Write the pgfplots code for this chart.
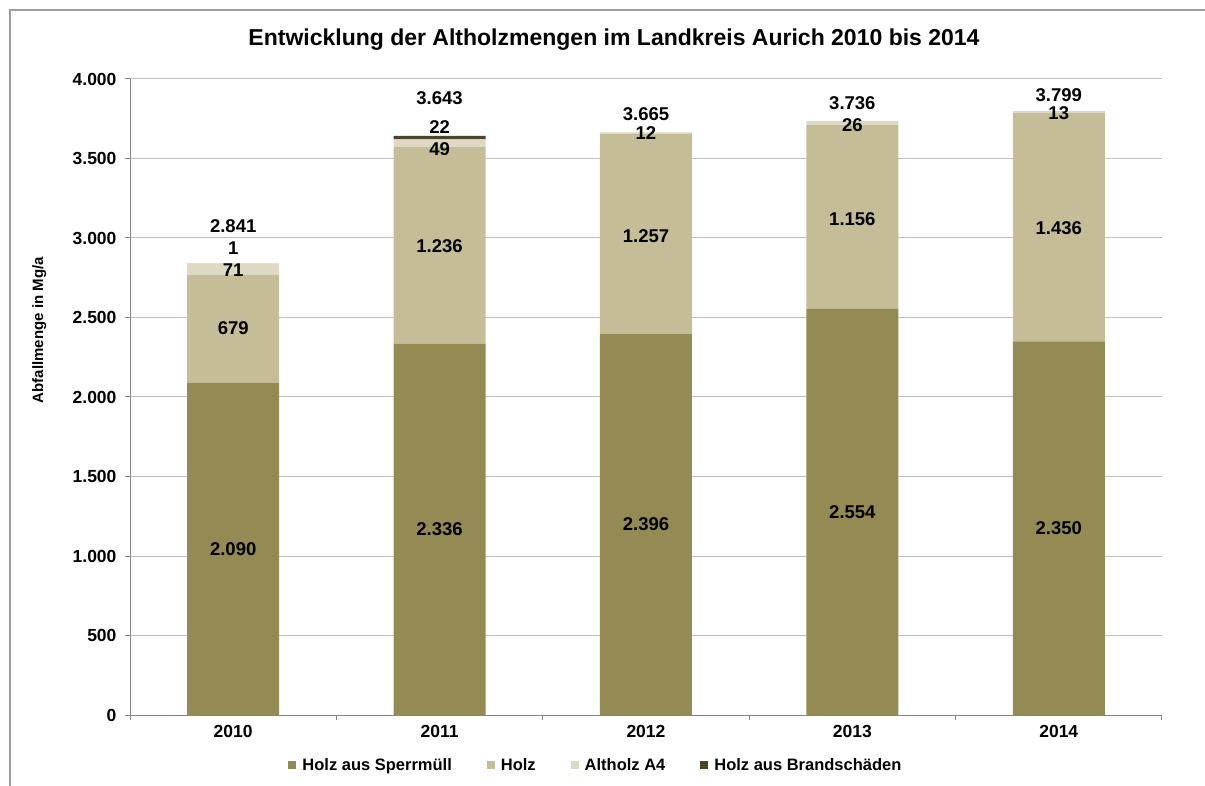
\documentclass[border=0pt]{standalone}
\usepackage{pgfplots}
\pgfplotsset{compat=1.18}
\usepackage{fontspec}
\setmainfont{Liberation Sans}
\definecolor{sperr}{HTML}{948A54}
\definecolor{holz}{HTML}{C4BD97}
\definecolor{altA}{HTML}{DDD9C3}
\definecolor{brand}{HTML}{4A452A}
\definecolor{gridc}{HTML}{BFBFBF}
\definecolor{axisc}{HTML}{868686}

\pgfplotsset{chartgeom/.style={at={(130pt,70pt)}, anchor=south west,
    scale only axis, width=1032pt, height=636pt,
    xmin=-0.5, xmax=4.5, ymin=0, ymax=4000}}

\begin{document}
\begin{tikzpicture}[x=1pt,y=1pt]
\useasboundingbox (0,0) rectangle (1205,785);
\draw[axisc!80, line width=1.5pt] (10,-2) -- (10,775) -- (1207,775);
\node[font=\fontsize{23}{27}\selectfont\bfseries] at (614,745)
  {Entwicklung der Altholzmengen im Landkreis Aurich 2010 bis 2014};

% Balken
\begin{axis}[chartgeom,
    ybar stacked, bar width=92pt,
    axis x line*=bottom, axis y line*=left,
    axis line style={axisc, line width=1pt},
    tick align=outside, major tick length=5pt,
    tick style={axisc, line width=1pt},
    ymajorgrids, grid style={gridc, line width=1pt},
    ytick={0,500,...,4000},
    xtick={-0.5,0.5,...,4.5}, xticklabels={},
    extra x ticks={0,1,2,3,4},
    extra x tick labels={2010,2011,2012,2013,2014},
    extra x tick style={major tick length=0pt, grid=none},
    ticklabel style={font=\fontsize{17.5}{20}\selectfont\bfseries},
    xticklabel style={yshift=-7pt},
    yticklabel style={xshift=-5pt},
    ylabel={Abfallmenge in Mg/a},
    ylabel style={at={(axis description cs:-0.088,0.605)}, anchor=center,
      font=\fontsize{15}{17}\selectfont\bfseries},
    legend columns=4,
    legend style={at={(axis description cs:0.4515,-0.0786)}, anchor=center,
      draw=none, fill=none, font=\fontsize{16.5}{18}\selectfont\bfseries,
      /tikz/every odd column/.append style={column sep=4pt},
      /tikz/every even column/.append style={column sep=33pt}},
    legend image code/.code={\draw[#1,draw=none] (0pt,-4pt) rectangle (8pt,4pt);},
    /pgf/number format/1000 sep={.},
    /pgf/number format/assume math mode=true,
]
\addplot[fill=sperr, draw=none] coordinates {(0,2090) (1,2336) (2,2396) (3,2554) (4,2350)};
\addlegendentry{Holz aus Sperrmüll}
\addplot[fill=holz, draw=none] coordinates {(0,679) (1,1236) (2,1257) (3,1156) (4,1436)};
\addlegendentry{Holz}
\addplot[fill=altA, draw=none] coordinates {(0,71) (1,49) (2,12) (3,26) (4,13)};
\addlegendentry{Altholz A4}
\addplot[fill=brand, draw=none] coordinates {(0,1) (1,22) (2,0) (3,0) (4,0)};
\addlegendentry{Holz aus Brandschäden}
\end{axis}

% Datenbeschriftungen
\begin{axis}[chartgeom, hide axis]
\addplot[draw=none, mark=none, nodes near coords, point meta=explicit symbolic,
  nodes near coords style={anchor=center, font=\fontsize{18.5}{20}\selectfont\bfseries}]
  table[meta=lab, row sep=\\] {
  x y lab \\
  0 1045 2.090 \\
  0 2430 679 \\
  0 2800 71 \\
  0 2937 1 \\
  0 3075 2.841 \\
  1 1168 2.336 \\
  1 2950 1.236 \\
  1 3560 49 \\
  1 3698 22 \\
  1 3880 3.643 \\
  2 1198 2.396 \\
  2 3013 1.257 \\
  2 3660 12 \\
  2 3780 3.665 \\
  3 1277 2.554 \\
  3 3120 1.156 \\
  3 3711 26 \\
  3 3849 3.736 \\
  4 1175 2.350 \\
  4 3063 1.436 \\
  4 3786 13 \\
  4 3899 3.799 \\
};
\end{axis}
\end{tikzpicture}
\end{document}
